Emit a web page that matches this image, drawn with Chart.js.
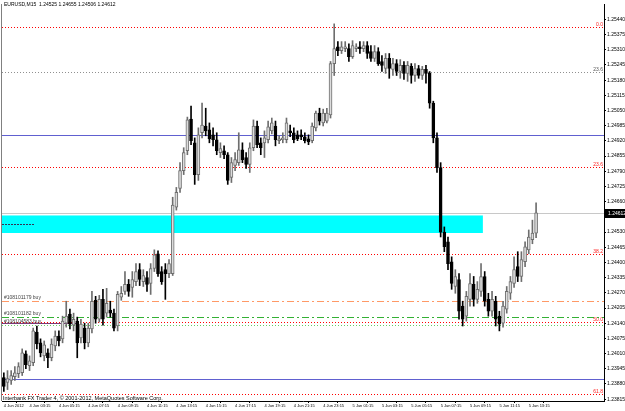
<!DOCTYPE html>
<html>
<head>
<meta charset="utf-8">
<script src="https://cdn.jsdelivr.net/npm/chart.js@4.4.1/dist/chart.umd.min.js"></script>
<style>
  html, body { margin: 0; padding: 0; background: #fff; }
  canvas { display: block; }
</style>
</head>
<body>
<canvas id="chart" width="625" height="411"></canvas>
<script>
// EURUSD M15 candles
const opens = [
  1.23907, 1.23886, 1.23895, 1.23911, 1.23924, 1.23928, 1.24009, 1.23958, 1.23971, 1.24102,
  1.24056, 1.24000, 1.24013, 1.23992, 1.24043, 1.24085, 1.24073, 1.24140, 1.24179, 1.24132,
  1.24149, 1.24077, 1.24119, 1.24056, 1.24115, 1.24238, 1.24157, 1.24242, 1.24183, 1.24196,
  1.24183, 1.24128, 1.24251, 1.24276, 1.24306, 1.24293, 1.24318, 1.24369, 1.24318, 1.24335,
  1.24310, 1.24374, 1.24437, 1.24361, 1.24369, 1.24352, 1.24352, 1.24637, 1.24717, 1.24793,
  1.24878, 1.25014, 1.24912, 1.24776, 1.24955, 1.24984, 1.24967, 1.24946, 1.24925, 1.24870,
  1.24878, 1.24861, 1.24764, 1.24815, 1.24827, 1.24882, 1.24849, 1.24819, 1.24891, 1.24984,
  1.24912, 1.24912, 1.24925, 1.24963, 1.24984, 1.24921, 1.24925, 1.24925, 1.24963, 1.24955,
  1.24946, 1.24946, 1.24938, 1.24929, 1.24921, 1.24976, 1.25039, 1.24997, 1.25005, 1.25031,
  1.25251, 1.25323, 1.25306, 1.25315, 1.25315, 1.25281, 1.25315, 1.25323, 1.25315, 1.25328,
  1.25302, 1.25273, 1.25302, 1.25260, 1.25230, 1.25273, 1.25226, 1.25251, 1.25217, 1.25243,
  1.25209, 1.25239, 1.25200, 1.25230, 1.25200, 1.25226, 1.25209, 1.25082, 1.24933, 1.24806,
  1.24530, 1.24488, 1.24403, 1.24297, 1.24327, 1.24213, 1.24170, 1.24242, 1.24306, 1.24242,
  1.24276, 1.24340, 1.24242, 1.24191, 1.24234, 1.24170, 1.24140, 1.24200, 1.24268, 1.24310,
  1.24382, 1.24340, 1.24403, 1.24454, 1.24497, 1.24525
];
const highs = [
  1.23928, 1.23937, 1.23937, 1.23954, 1.23971, 1.24030, 1.24022, 1.24000, 1.24119, 1.24128,
  1.24073, 1.24064, 1.24030, 1.24073, 1.24107, 1.24107, 1.24170, 1.24234, 1.24200, 1.24183,
  1.24166, 1.24157, 1.24140, 1.24140, 1.24276, 1.24255, 1.24259, 1.24285, 1.24289, 1.24234,
  1.24200, 1.24276, 1.24297, 1.24361, 1.24327, 1.24361, 1.24395, 1.24395, 1.24369, 1.24361,
  1.24395, 1.24454, 1.24450, 1.24382, 1.24395, 1.24412, 1.24679, 1.24721, 1.24827, 1.24891,
  1.25022, 1.25069, 1.24933, 1.24976, 1.25082, 1.25060, 1.24997, 1.24976, 1.24955, 1.24912,
  1.24899, 1.24870, 1.24849, 1.24870, 1.24955, 1.24912, 1.24870, 1.24912, 1.25010, 1.25005,
  1.24933, 1.24963, 1.25005, 1.25018, 1.25005, 1.24942, 1.24955, 1.25018, 1.24988, 1.24976,
  1.24963, 1.24967, 1.24955, 1.24946, 1.24997, 1.25048, 1.25060, 1.25056, 1.25060, 1.25260,
  1.25421, 1.25345, 1.25345, 1.25345, 1.25336, 1.25349, 1.25336, 1.25345, 1.25345, 1.25345,
  1.25328, 1.25328, 1.25319, 1.25285, 1.25294, 1.25294, 1.25273, 1.25268, 1.25268, 1.25260,
  1.25260, 1.25251, 1.25251, 1.25243, 1.25239, 1.25243, 1.25217, 1.25090, 1.24955, 1.24827,
  1.24552, 1.24509, 1.24424, 1.24369, 1.24352, 1.24234, 1.24276, 1.24352, 1.24340, 1.24318,
  1.24395, 1.24361, 1.24268, 1.24276, 1.24255, 1.24191, 1.24234, 1.24297, 1.24340, 1.24424,
  1.24446, 1.24446, 1.24488, 1.24539, 1.24581, 1.24655
];
const lows = [
  1.23848, 1.23856, 1.23878, 1.23895, 1.23907, 1.23916, 1.23945, 1.23937, 1.23958, 1.24030,
  1.23996, 1.23979, 1.23950, 1.23979, 1.24022, 1.24043, 1.24056, 1.24123, 1.24115, 1.24107,
  1.23992, 1.24056, 1.24030, 1.24039, 1.24098, 1.24140, 1.24145, 1.24132, 1.24166, 1.24166,
  1.24107, 1.24107, 1.24238, 1.24263, 1.24255, 1.24251, 1.24301, 1.24301, 1.24297, 1.24276,
  1.24263, 1.24361, 1.24340, 1.24306, 1.24242, 1.24335, 1.24344, 1.24624, 1.24700, 1.24776,
  1.24861, 1.24904, 1.24734, 1.24751, 1.24933, 1.24942, 1.24912, 1.24899, 1.24861, 1.24849,
  1.24844, 1.24734, 1.24742, 1.24793, 1.24815, 1.24827, 1.24802, 1.24785, 1.24878, 1.24891,
  1.24861, 1.24849, 1.24912, 1.24950, 1.24899, 1.24908, 1.24912, 1.24912, 1.24938, 1.24912,
  1.24921, 1.24925, 1.24912, 1.24904, 1.24912, 1.24963, 1.24988, 1.24984, 1.24997, 1.25018,
  1.25200, 1.25285, 1.25294, 1.25302, 1.25260, 1.25273, 1.25302, 1.25294, 1.25302, 1.25273,
  1.25260, 1.25260, 1.25243, 1.25217, 1.25209, 1.25188, 1.25200, 1.25200, 1.25188, 1.25183,
  1.25175, 1.25167, 1.25175, 1.25188, 1.25183, 1.25167, 1.25060, 1.24912, 1.24785, 1.24509,
  1.24446, 1.24369, 1.24285, 1.24268, 1.24157, 1.24128, 1.24149, 1.24213, 1.24213, 1.24225,
  1.24255, 1.24213, 1.24170, 1.24170, 1.24128, 1.24107, 1.24123, 1.24183, 1.24242, 1.24293,
  1.24318, 1.24318, 1.24382, 1.24437, 1.24480, 1.24506
];
const closes = [
  1.23869, 1.23903, 1.23916, 1.23928, 1.23954, 1.24013, 1.23962, 1.23979, 1.24107, 1.24051,
  1.24013, 1.24047, 1.23992, 1.24051, 1.24085, 1.24064, 1.24149, 1.24170, 1.24136, 1.24157,
  1.24056, 1.24136, 1.24056, 1.24119, 1.24234, 1.24157, 1.24242, 1.24157, 1.24225, 1.24183,
  1.24119, 1.24263, 1.24268, 1.24306, 1.24276, 1.24327, 1.24361, 1.24327, 1.24344, 1.24306,
  1.24374, 1.24433, 1.24352, 1.24318, 1.24352, 1.24395, 1.24645, 1.24700, 1.24793, 1.24870,
  1.25010, 1.24921, 1.24776, 1.24946, 1.24988, 1.24963, 1.24929, 1.24925, 1.24878, 1.24887,
  1.24861, 1.24751, 1.24827, 1.24840, 1.24882, 1.24840, 1.24819, 1.24891, 1.24984, 1.24904,
  1.24891, 1.24933, 1.24980, 1.24997, 1.24925, 1.24929, 1.24933, 1.24997, 1.24955, 1.24925,
  1.24929, 1.24938, 1.24921, 1.24916, 1.24984, 1.25039, 1.25005, 1.25039, 1.25039, 1.25251,
  1.25315, 1.25306, 1.25323, 1.25323, 1.25281, 1.25328, 1.25323, 1.25315, 1.25328, 1.25294,
  1.25273, 1.25302, 1.25251, 1.25243, 1.25273, 1.25230, 1.25251, 1.25217, 1.25243, 1.25209,
  1.25243, 1.25200, 1.25230, 1.25200, 1.25226, 1.25209, 1.25082, 1.24933, 1.24806, 1.24530,
  1.24467, 1.24395, 1.24310, 1.24340, 1.24191, 1.24157, 1.24255, 1.24310, 1.24242, 1.24285,
  1.24340, 1.24234, 1.24191, 1.24242, 1.24157, 1.24136, 1.24213, 1.24276, 1.24318, 1.24369,
  1.24340, 1.24412, 1.24467, 1.24509, 1.24526, 1.24612
];

// time axis: bar index of each label, and its text
const tickBars = [0, 7, 15, 23, 31, 39, 47, 55, 63, 71, 79, 87, 95, 103, 111, 119, 127, 135, 143];
const tickTexts = [
  '4 Jun 2012', '4 Jun 03:15', '4 Jun 05:15', '4 Jun 07:15', '4 Jun 09:15', '4 Jun 11:15',
  '4 Jun 13:15', '4 Jun 15:15', '4 Jun 17:15', '4 Jun 19:15', '4 Jun 21:15', '4 Jun 23:15',
  '5 Jun 01:15', '5 Jun 03:15', '5 Jun 05:15', '5 Jun 07:15', '5 Jun 09:15', '5 Jun 11:15',
  '5 Jun 13:15'
];
const totalSlots = 164; // bars + empty chart shift on the right

const priceTicks = [
  1.23815, 1.23880, 1.23945, 1.24010, 1.24075, 1.24140, 1.24205, 1.24270, 1.24335, 1.24400,
  1.24465, 1.24530, 1.24595, 1.24660, 1.24725, 1.24790, 1.24855, 1.24920, 1.24985, 1.25050,
  1.25115, 1.25180, 1.25245, 1.25310, 1.25375, 1.25440
];

// objects on the chart
const fibPrices = [1.25408, 1.24810, 1.24437, 1.24145, 1.23839];
const fibNames = ['0.0', '23.6', '38.2', '50.0', '61.8'];
const greyFibPrice = 1.25213;
const greyFibName = '23.6';
const bluePrices = [1.24946, 1.23903];
const orderPrices = [1.24234, 1.24166, 1.24132];
const orderNames = ['#108101179 buy', '#108101182 buy', '#108104583 buy'];
const zoneTop = 1.24601;
const zoneBottom = 1.24526;
const zoneEndBar = 130.5;

const labels = [];
for (let i = 0; i < totalSlots; i++) {
  const k = tickBars.indexOf(i);
  labels.push(k >= 0 ? tickTexts[k] : '');
}

const bull = closes.map((c, i) => c >= opens[i]);

function hline(ctx, area, y, color, dash, x0, x1) {
  const py = Math.round(y) + 0.5;
  ctx.save();
  ctx.strokeStyle = color;
  ctx.lineWidth = 1;
  ctx.setLineDash(dash || []);
  ctx.beginPath();
  ctx.moveTo(x0 !== undefined ? x0 : area.left, py);
  ctx.lineTo(x1 !== undefined ? x1 : area.right, py);
  ctx.stroke();
  ctx.restore();
}

const objectsPlugin = {
  id: 'objects',
  beforeDatasetsDraw(chart) {
    const { ctx, chartArea: a, scales: { x, y } } = chart;
    ctx.save();
    ctx.beginPath();
    ctx.rect(a.left, a.top, a.right - a.left, a.bottom - a.top);
    ctx.clip();

    // cyan zone
    const zx = x.getPixelForValue(zoneEndBar);
    const zt = y.getPixelForValue(zoneTop);
    const zb = y.getPixelForValue(zoneBottom);
    ctx.fillStyle = '#00ffff';
    ctx.fillRect(a.left, zt, zx - a.left, zb - zt);
    hline(ctx, a, y.getPixelForValue((zoneTop + zoneBottom) / 2), '#335', [2, 1], a.left, a.left + 33);

    // last price line
    hline(ctx, a, y.getPixelForValue(closes[closes.length - 1]), '#c8c8c8', []);

    // blue lines
    bluePrices.forEach(p => hline(ctx, a, y.getPixelForValue(p), '#6060d0', []));

    // fibo levels
    ctx.font = '5px "Liberation Sans"';
    ctx.textAlign = 'right';
    ctx.textBaseline = 'bottom';
    fibPrices.forEach((p, i) => {
      const py = y.getPixelForValue(p);
      hline(ctx, a, py, '#ff0000', [1, 2]);
      ctx.fillStyle = '#ff2020';
      ctx.fillText(fibNames[i], a.right - 1, Math.round(py));
    });
    const gy = y.getPixelForValue(greyFibPrice);
    hline(ctx, a, gy, '#909090', [1, 2]);
    ctx.fillStyle = '#555';
    ctx.fillText(greyFibName, a.right - 1, Math.round(gy));

    // orders
    const oy = orderPrices.map(p => y.getPixelForValue(p));
    hline(ctx, a, oy[0], '#ff9966', [7, 3, 2, 3]);
    hline(ctx, a, oy[1], '#33b033', [7, 3, 2, 3]);
    hline(ctx, a, oy[2], '#66cc66', [1, 2]);
    hline(ctx, a, oy[2] - 2, '#7a3a78', [], a.left, x.getPixelForValue(20));
    ctx.textAlign = 'left';
    ctx.fillStyle = '#444';
    orderNames.forEach((n, i) => ctx.fillText(n, a.left + 2, Math.round(oy[i]) - 1));
    ctx.restore();
  },
  afterDraw(chart) {
    const { ctx, chartArea: a, scales: { y } } = chart;
    ctx.save();
    // left frame
    ctx.fillStyle = '#808080';
    ctx.fillRect(a.left - 1, a.top, 1, a.bottom - a.top);
    // header and footer text
    ctx.fillStyle = '#000';
    ctx.font = '5px "Liberation Sans"';
    ctx.textBaseline = 'middle';
    ctx.textAlign = 'left';
    ctx.fillText('EURUSD,M15  1.24525 1.24655 1.24506 1.24612', a.left + 2, 5);
    ctx.font = '5.5px "Liberation Sans"';
    ctx.fillText('Interbank FX Trader 4, \u00a9 2001-2012, MetaQuotes Software Corp.', a.left + 1, a.bottom - 3);
    // last price box
    const last = closes[closes.length - 1];
    const py = Math.round(y.getPixelForValue(last));
    ctx.fillStyle = '#000';
    ctx.fillRect(a.right + 1, py - 4, 625 - a.right, 9);
    ctx.fillStyle = '#fff';
    ctx.font = '5px "Liberation Sans"';
    ctx.fillText(last.toFixed(5), a.right + 4, py + 0.5);
    ctx.restore();
  }
};

new Chart(document.getElementById('chart'), {
  type: 'bar',
  data: {
    labels: labels,
    datasets: [
      {
        label: 'body',
        data: opens.map((o, i) => [o, closes[i]]),
        backgroundColor: bull.map(b => b ? '#dcdcdc' : '#000'),
        borderColor: bull.map(b => b ? '#6e6e6e' : '#000'),
        borderWidth: 1,
        borderSkipped: false,
        barThickness: 3,
        minBarLength: 1,
        grouped: false,
        order: 0
      },
      {
        label: 'wick',
        data: lows.map((l, i) => [l, highs[i]]),
        backgroundColor: bull.map(b => b ? '#6e6e6e' : '#000'),
        borderWidth: 0,
        barThickness: 1,
        grouped: false,
        order: 1
      }
    ]
  },
  options: {
    responsive: false,
    animation: false,
    layout: { padding: { left: 2, top: 0, right: 0, bottom: 0 } },
    plugins: { legend: { display: false }, tooltip: { enabled: false } },
    scales: {
      x: {
        offset: true,
        afterFit(s) { s.height = 10; },
        afterBuildTicks(s) { s.ticks = s.ticks.filter(t => labels[t.value] !== ''); },
        grid: { drawOnChartArea: false, drawTicks: true, tickLength: 2, color: '#000' },
        border: { display: true, color: '#000' },
        ticks: {
          autoSkip: false,
          maxRotation: 0,
          align: 'start',
          padding: 0,
          color: '#000',
          font: { family: 'Liberation Sans', size: 4 },
          callback: (v) => labels[v]
        }
      },
      y: {
        position: 'right',
        min: 1.23807,
        max: 1.25506,
        afterFit(s) { s.width = 21; },
        afterBuildTicks(s) { s.ticks = priceTicks.map(v => ({ value: v })); },
        grid: { drawOnChartArea: false, drawTicks: true, tickLength: 2, color: '#000' },
        border: { display: true, color: '#000' },
        ticks: {
          padding: 1,
          color: '#000',
          font: { family: 'Liberation Sans', size: 5 },
          callback: (v) => Number(v).toFixed(5)
        }
      }
    }
  },
  plugins: [objectsPlugin]
});
</script>
</body>
</html>
